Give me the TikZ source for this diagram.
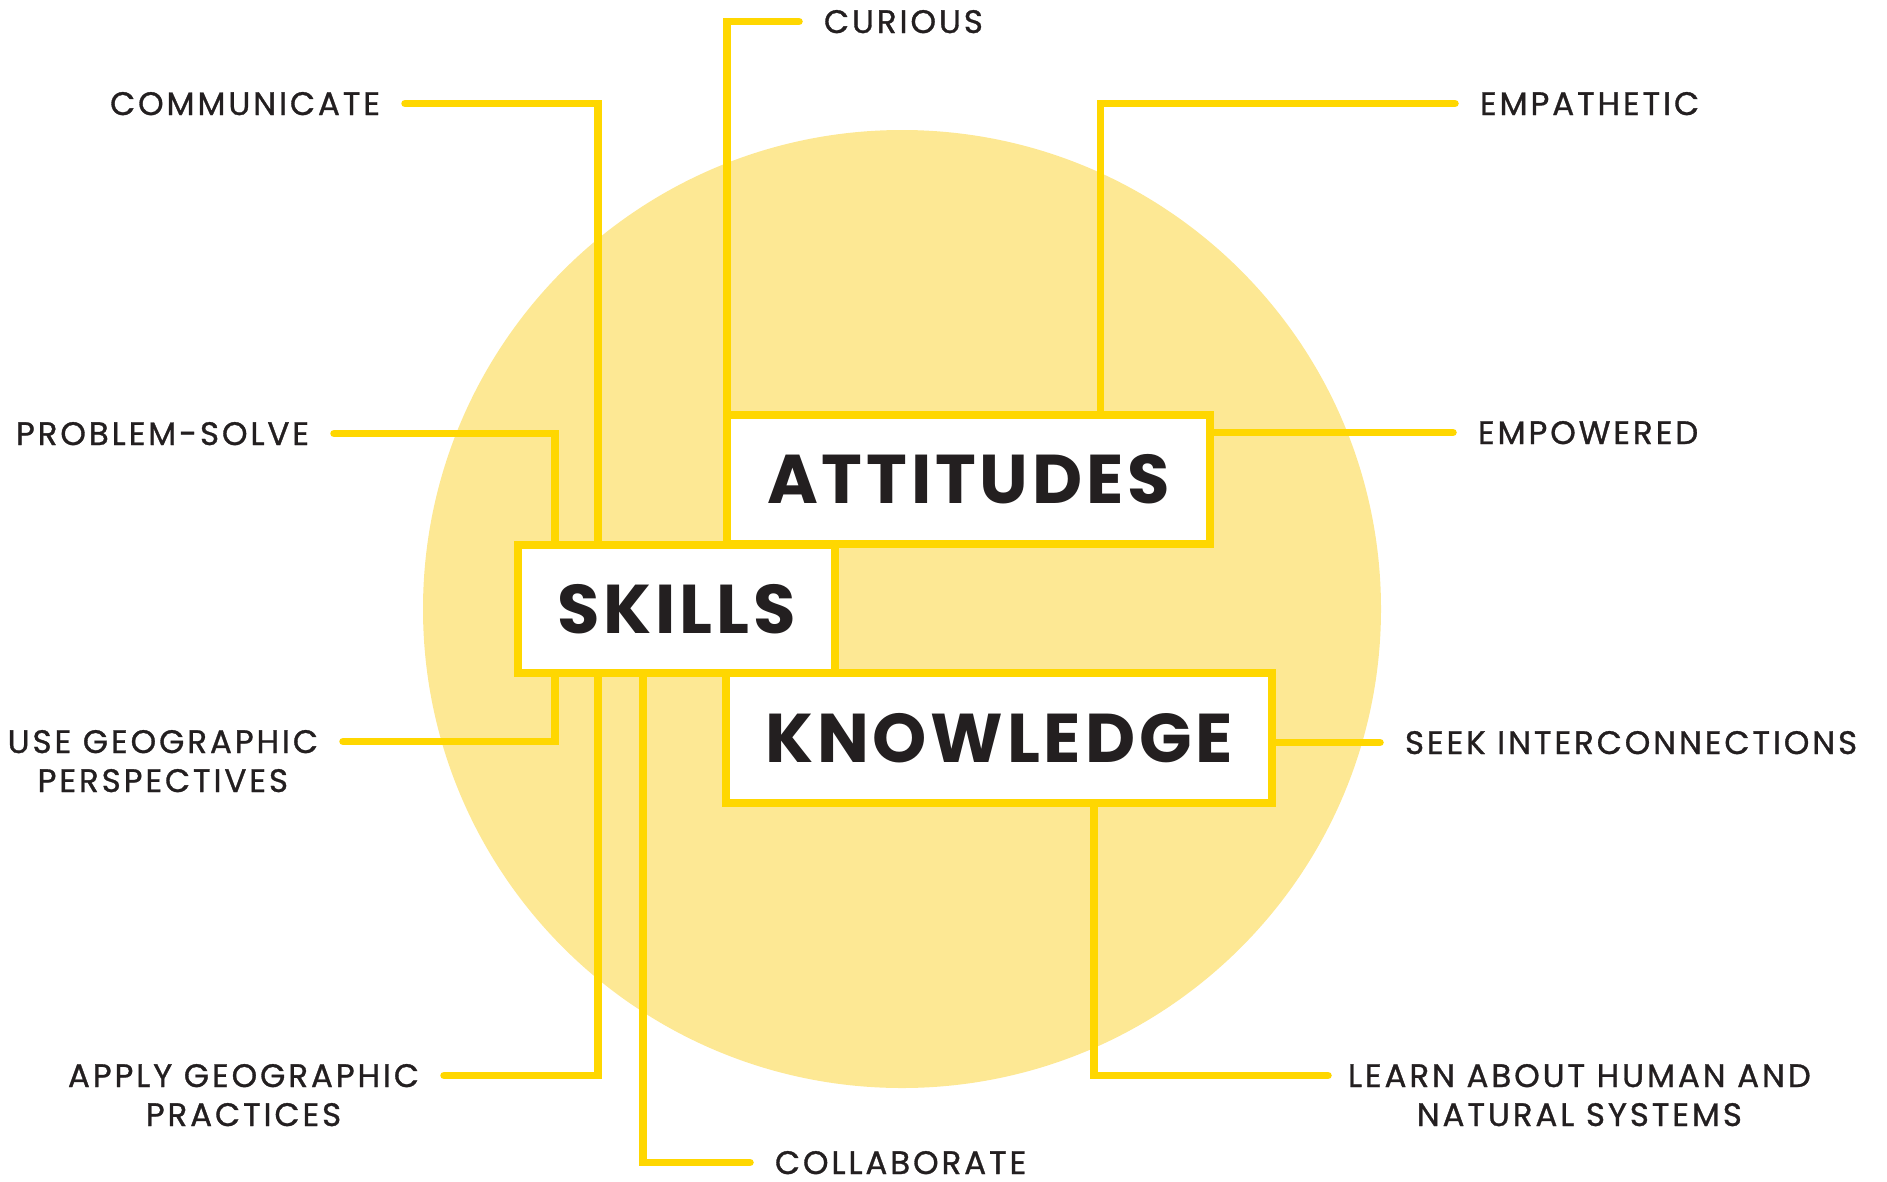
\documentclass[tikz,border=0pt]{standalone}
\usepackage{fontspec}
\setmainfont{Poppins}
\newfontfamily\tagfont{Poppins}[LetterSpace=9, FakeBold=1]
\newfontfamily\boxfont{Poppins}[LetterSpace=5.5, UprightFeatures={FakeBold=0.6}, BoldFeatures={LetterSpace=5.5}]
\usetikzlibrary{backgrounds}

\definecolor{linegold}{HTML}{FFD700}
\definecolor{sunfill}{HTML}{FDE894}
\definecolor{ink}{HTML}{231F20}

\tikzset{
    box/.style={rectangle, draw=linegold, line width=7.5pt, fill=white, outer sep=0pt, inner sep=0pt, text=ink, font=\fontsize{69}{80}\selectfont\boxfont\bfseries},
    lbl/.style={inner sep=0pt, outer sep=0pt, text=ink, font=\fontsize{32.5}{39}\selectfont\tagfont},
    wire/.style={draw=linegold, line width=7.5pt, line cap=round, line join=miter}
}

\begin{document}
\begin{tikzpicture}[x=1pt, y=-1pt]
            \useasboundingbox (0,0) rectangle (1887,1181);

            % the three boxes
            \begin{scope}
                \node[box, minimum width=483, minimum height=129] (att) at (968.5,479.5) {ATTITUDES};
                \node[box, minimum width=317, minimum height=128] (skl) at (676.5,609) {SKILLS};
                \node[box, minimum width=546, minimum height=130] (knw) at (999,738) {KNOWLEDGE};
            \end{scope}

            % labels
            \begin{scope}
                \node[lbl, anchor=base west] (cur) at (824,33) {CURIOUS};
                \node[lbl, anchor=base east] (com) at (380,115) {COMMUNICATE};
                \node[lbl, anchor=base west] (emp) at (1480,115) {EMPATHETIC};
                \node[lbl, anchor=base east] (prb) at (309,445) {PROBLEM-SOLVE};
                \node[lbl, anchor=base west] (pow) at (1478,444) {EMPOWERED};
                \node[lbl, anchor=base east] (usg) at (318,753) {\begin{tabular}[t]{@{}c@{}}USE GEOGRAPHIC\\PERSPECTIVES\end{tabular}};
                \node[lbl, anchor=base west] (seek) at (1405,754) {SEEK INTERCONNECTIONS};
                \node[lbl, anchor=base east] (apl) at (419,1087) {\begin{tabular}[t]{@{}c@{}}APPLY GEOGRAPHIC\\PRACTICES\end{tabular}};
                \node[lbl, anchor=base west] (col) at (775,1174) {COLLABORATE};
                \node[lbl, anchor=base west] (lrn) at (1348,1087) {\begin{tabular}[t]{@{}c@{}}LEARN ABOUT HUMAN AND\\NATURAL SYSTEMS\end{tabular}};
            \end{scope}

            % free ends of the lines
            \coordinate (cur-end) at ([xshift=-25pt,yshift=11.5pt]cur.base west);
            \coordinate (com-end) at ([xshift=25pt,yshift=11.5pt]com.base east);
            \coordinate (emp-end) at ([xshift=-25pt,yshift=11.5pt]emp.base west);
            \coordinate (prb-end) at ([xshift=25pt,yshift=11.5pt]prb.base east);
            \coordinate (pow-end) at ([xshift=-25pt,yshift=11.5pt]pow.base west);
            \coordinate (usg-end) at ([xshift=25pt,yshift=11.5pt]usg.base east);
            \coordinate (seek-end) at ([xshift=-25pt,yshift=11.5pt]seek.base west);
            \coordinate (apl-end) at ([xshift=25pt,yshift=11.5pt]apl.base east);
            \coordinate (col-end) at ([xshift=-25pt,yshift=11.5pt]col.base west);
            \coordinate (lrn-end) at ([xshift=-20pt,yshift=11.5pt]lrn.base west);

            \begin{pgfonlayer}{background}
                \fill[sunfill] (902,609) circle (479);

                \path[wire] (att.north west) |- (cur-end);
                \path[wire] ([xshift=373.5pt]att.north west) |- (emp-end);
                \path[wire] ([xshift=80pt]skl.north west) |- (com-end);
                \path[wire] ([xshift=37pt]skl.north west) |- (prb-end);
                \path[wire] (att.east |- pow-end) -- (pow-end);
                \path[wire] ([xshift=37pt]skl.south west) |- (usg-end);
                \path[wire] (knw.east |- seek-end) -- (seek-end);
                \path[wire] ([xshift=80pt]skl.south west) |- (apl-end);
                \path[wire] ([xshift=125pt]skl.south west) |- (col-end);
                \path[wire] ([xshift=368pt]knw.south west) |- (lrn-end);
            \end{pgfonlayer}
            \end{tikzpicture}
\end{document}
